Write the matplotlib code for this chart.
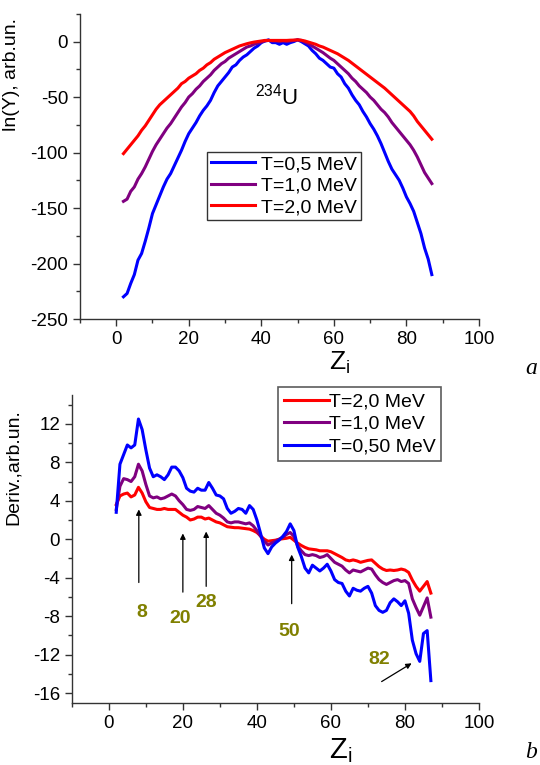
import matplotlib
matplotlib.use("Agg")
import matplotlib.pyplot as plt
from matplotlib.ticker import MultipleLocator

plt.rcParams['font.family'] = ['Liberation Sans', 'DejaVu Sans']
plt.rcParams['axes.unicode_minus'] = False

Z = list(range(2, 88))

# Panel a: ln(Y)
lnY_05 = [-230, -227, -218, -210, -197, -191, -180, -168, -155, -147,
          -139, -131, -124, -119, -112, -105, -98, -90, -83, -78,
          -73, -67, -62, -58, -53, -46, -40, -36, -32, -28,
          -23, -21, -17, -14, -12, -9, -6, -4, -1, 0.5,
          1.5, -1, -1, -2.5, -1, -2.5, -1, 0, 1.5, 0,
          -2, -4, -8, -11, -15, -17, -20, -23, -24, -29,
          -32, -38, -42, -48, -53, -57, -63, -68, -74, -79,
          -85, -92, -100, -108, -115, -120, -125, -132, -140, -146,
          -153, -163, -173, -186, -196, -210]
lnY_10 = [-144, -142, -135, -131, -124, -119, -113, -106, -99, -93,
          -88, -83, -78, -74, -69, -64, -59, -55, -50, -47,
          -43, -40, -36, -33, -30, -26, -23, -20, -18, -15,
          -13, -11, -9, -7, -5, -4, -2.5, -1.5, -0.5, 0.5,
          1, 0.5, 0.5, 0, 0.5, 0, 0.5, 1, 1.5, 1,
          -0.5, -2, -4, -6, -8, -10, -12.5, -15, -17, -20,
          -23, -26, -29, -33, -36, -40, -43, -46, -50, -53,
          -57, -61, -64, -68, -73, -77, -81, -85, -89, -93,
          -98, -104, -111, -118, -123, -128]
lnY_20 = [-101, -97, -93, -89, -85, -80, -76, -71, -66, -61,
          -57, -54, -51, -48, -45, -42, -38, -36, -33, -31,
          -29, -26, -24, -21, -19, -16, -14, -12, -10, -8.5,
          -7, -5.5, -4, -3, -2, -1.2, -0.5, 0, 0.5, 1,
          1, 1, 1, 1, 1, 1, 1.2, 1.3, 1.5, 1.2,
          0.5, -0.5, -1.5, -2.5, -4, -5, -6.5, -8, -9.5, -11,
          -13, -15, -17, -19.5, -22, -24.5, -27, -29.5, -32, -34.5,
          -37, -39.5, -42, -45, -48, -51, -54, -57, -60, -63,
          -67, -72, -76, -80, -84, -88]

# Panel b: derivative
der_05 = [2.8, 7.8, 8.8, 9.8, 9.5, 9.8, 12.5, 11.4, 9.3, 7.4,
          6.5, 6.7, 6.5, 6.2, 6.7, 7.5, 7.5, 7.1, 6.4, 5.3,
          5.0, 4.9, 5.3, 5.1, 5.1, 5.9, 5.3, 4.6, 4.5, 4.2,
          3.2, 2.7, 2.9, 3.2, 3.1, 2.7, 3.5, 3.1, 2.0, 0.6,
          -0.9, -1.5, -0.8, -0.4, -0.1, 0.3, 0.8, 1.6, 0.9, -0.8,
          -1.8, -3.0, -3.5, -2.7, -3.0, -3.3, -3.0, -2.6, -3.3, -4.2,
          -4.5, -4.6, -5.4, -5.9, -5.1, -5.3, -5.4, -5.1, -4.9, -5.6,
          -6.9, -7.4, -7.6, -7.4, -6.6, -6.2, -6.5, -6.9, -6.4, -7.7,
          -10.5, -11.9, -12.7, -9.8, -9.5, -14.7]
der_10 = [3.1, 5.5, 6.3, 6.2, 6.0, 6.5, 7.8, 7.1, 5.7, 4.5,
          4.3, 4.4, 4.2, 4.3, 4.5, 4.7, 4.5, 4.0, 3.6, 3.1,
          3.0, 3.1, 3.4, 3.3, 3.2, 3.5, 3.1, 2.7, 2.5, 2.2,
          1.8, 1.7, 1.8, 1.8, 1.7, 1.6, 1.7, 1.4, 0.9, 0.3,
          -0.2, -0.6, -0.4, -0.2, 0.0, 0.2, 0.5, 0.7, 0.3, -0.7,
          -1.2, -1.6, -1.7, -1.6, -1.7, -1.9, -1.8, -1.6, -2.0, -2.4,
          -2.6, -2.8, -3.2, -3.5, -3.2, -3.3, -3.4, -3.2, -3.0, -3.1,
          -3.7, -4.2, -4.5, -4.7, -4.5, -4.3, -4.2, -4.4, -4.3, -4.6,
          -6.2, -7.1, -7.9, -7.0, -6.1, -8.1]
der_20 = [3.6, 4.5, 4.7, 4.8, 4.4, 4.6, 5.4, 4.8, 3.9, 3.3,
          3.2, 3.1, 3.1, 3.2, 3.1, 3.1, 3.1, 2.8, 2.5, 2.3,
          2.0, 2.1, 2.3, 2.3, 2.1, 2.2, 2.0, 1.8, 1.7, 1.5,
          1.3, 1.25, 1.2, 1.2, 1.15, 1.1, 1.05, 0.9, 0.7, 0.35,
          0.0, -0.2, -0.15, -0.1, 0.0, 0.05, 0.1, 0.2, -0.1, -0.4,
          -0.65, -0.85, -1.0, -1.05, -1.1, -1.2, -1.2, -1.2, -1.3, -1.5,
          -1.7, -1.9, -2.15, -2.25, -2.15, -2.25, -2.4, -2.3, -2.2, -2.15,
          -2.5, -2.85, -3.1, -3.25, -3.2, -3.25, -3.2, -3.1, -3.2, -3.45,
          -4.25, -4.9, -5.4, -4.9, -4.4, -5.6]

magic_labels = ["8", "20", "28", "50", "82"]
magic_label_pos = [(8.8, -7.6), (19.2, -8.2), (26.4, -6.6), (48.7, -9.6), (73.1, -12.5)]
arrow_tails = [(8.1, -4.5), (20.0, -5.5), (26.3, -4.9), (49.4, -6.7), (73.7, -14.8)]
arrow_heads = [(8.1, 3.1), (20.0, 0.6), (26.3, 0.8), (49.4, -1.6), (81.8, -12.9)]

BLUE = '#0000ff'
PURPLE = '#800080'
RED = '#ff0000'
OLIVE = '#808000'

fig = plt.figure(figsize=(5.4, 7.65), dpi=100)

def style_axes(ax):
    for s in ('top', 'right'):
        ax.spines[s].set_visible(False)
    for s in ('left', 'bottom'):
        ax.spines[s].set_linewidth(1.0)
        ax.spines[s].set_color('#333333')
    ax.tick_params(which='major', direction='out', length=5, width=1, labelsize=13.5,
                   colors='#333333', labelcolor='black')
    ax.tick_params(which='minor', direction='out', length=3, width=1, colors='#333333')
    ax.xaxis.set_major_locator(MultipleLocator(20))
    ax.xaxis.set_minor_locator(MultipleLocator(10))

# ---- Panel a ----
ax1 = fig.add_axes([0.148, 0.583, 0.739, 0.399])
ax1.plot(Z, lnY_05, color=BLUE, lw=2.2, label='T=0,5 MeV')
ax1.plot(Z, lnY_10, color=PURPLE, lw=2.2, label='T=1,0 MeV')
ax1.plot(Z, lnY_20, color=RED, lw=2.2, label='T=2,0 MeV')
ax1.set_xlim(-10, 100)
ax1.set_ylim(-250, 25)
ax1.yaxis.set_major_locator(MultipleLocator(50))
ax1.yaxis.set_minor_locator(MultipleLocator(25))
style_axes(ax1)
ax1.set_ylabel('ln(Y), arb.un.', fontsize=14)
ax1.yaxis.set_label_coords(-0.15, 0.80)
ax1.set_xlabel('Z$_\\mathregular{i}$', fontsize=19)
ax1.xaxis.set_label_coords(0.652, -0.10)
ax1.text(38.3, -57, '$^{\\mathregular{234}}$U', fontsize=16, ha='left', va='baseline')
leg1 = ax1.legend(loc='upper left', bbox_to_anchor=(0.318, 0.548), fontsize=14,
                  frameon=True, fancybox=False, edgecolor='black', handlelength=2.3,
                  handletextpad=0.3, borderpad=0.2, labelspacing=0.2, borderaxespad=0)
leg1.get_frame().set_linewidth(1.0)

# ---- Panel b ----
ax2 = fig.add_axes([0.133, 0.0814, 0.754, 0.4023])
ax2.plot(Z, der_20, color=RED, lw=2.2, label='T=2,0 MeV')
ax2.plot(Z, der_10, color=PURPLE, lw=2.2, label='T=1,0 MeV')
ax2.plot(Z, der_05, color=BLUE, lw=2.2, label='T=0,50 MeV')
ax2.set_xlim(-10, 100)
ax2.set_ylim(-17, 15)
ax2.yaxis.set_major_locator(MultipleLocator(4))
ax2.yaxis.set_minor_locator(MultipleLocator(2))
style_axes(ax2)
ax2.set_ylabel('Deriv.,arb.un.', fontsize=14)
ax2.yaxis.set_label_coords(-0.122, 0.766)
ax2.set_xlabel('Z$_\\mathregular{i}$', fontsize=21)
ax2.xaxis.set_label_coords(0.66, -0.108)
leg2 = ax2.legend(loc='upper left', bbox_to_anchor=(0.507, 1.026), fontsize=14,
                  frameon=True, fancybox=False, edgecolor='#333333', handlelength=2.3,
                  handletextpad=0.0, borderpad=0.3, labelspacing=0.25, borderaxespad=0)
leg2.get_frame().set_linewidth(1.2)

for lab, pos in zip(magic_labels, magic_label_pos):
    ax2.text(pos[0], pos[1], lab, color=OLIVE, fontsize=14, fontweight='bold',
             ha='center', va='center')
for tail, head in zip(arrow_tails, arrow_heads):
    ax2.annotate('', xy=head, xytext=tail,
                 arrowprops=dict(arrowstyle='-|>', color='black', lw=0.9,
                                 mutation_scale=8, shrinkA=0, shrinkB=0))

fig.text(531/540, 1 - 368/765, 'a', fontsize=17, style='italic',
         family=['Liberation Serif', 'DejaVu Serif'], ha='center', va='center')
fig.text(531/540, 1 - 752/765, 'b', fontsize=17, style='italic',
         family=['Liberation Serif', 'DejaVu Serif'], ha='center', va='center')

fig.savefig('out.png', dpi=100)
